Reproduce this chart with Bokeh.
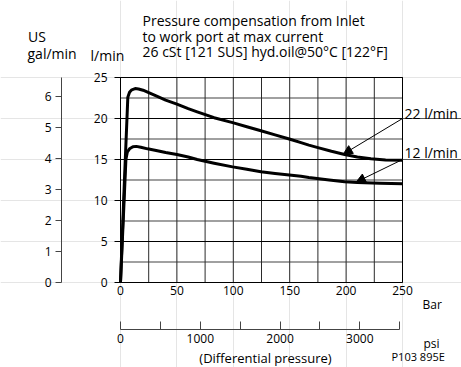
from bokeh.plotting import figure
from bokeh.models import Range1d, LinearAxis, FixedTicker, Label, Arrow, NormalHead
from bokeh.embed import file_html
from bokeh.resources import INLINE

# ---------------- data ----------------
bar_22 = [0, 3.3, 6.5, 8, 10, 13, 16, 20, 25, 31.6, 40, 50, 60, 68, 83, 99.4, 112, 124.5, 137, 149.6, 160, 167, 175, 187, 198.7, 210, 222, 235, 250]
flow_22 = [0, 11.8, 22.6, 23.2, 23.5, 23.65, 23.6, 23.45, 23.15, 22.75, 22.25, 21.75, 21.2, 20.8, 20.1, 19.5, 19.0, 18.5, 18.0, 17.5, 17.05, 16.75, 16.45, 16.0, 15.6, 15.3, 15.1, 14.95, 14.9]
bar_12 = [0, 2.5, 4.8, 6, 8, 11, 14, 18, 24, 31.6, 40, 50, 60, 68, 83, 99.4, 112, 124.5, 137, 149.6, 160, 167, 185, 198.7, 210, 230, 250]
flow_12 = [0, 7.8, 15.0, 15.9, 16.3, 16.55, 16.6, 16.5, 16.3, 16.1, 15.85, 15.6, 15.3, 15.0, 14.55, 14.1, 13.8, 13.5, 13.3, 13.1, 12.95, 12.8, 12.5, 12.3, 12.2, 12.1, 12.05]

bar_label_ticks = [0, 50, 100, 150, 200, 250]
bar_grid_ticks = [0, 25, 50, 75, 100, 125, 150, 175, 200, 225, 250]
lmin_ticks = [0, 5, 10, 15, 20, 25]
lmin_minor = [2.5, 7.5, 12.5, 17.5, 22.5]
gal_ticks = [0, 1, 2, 3, 4, 5, 6]
psi_ticks = [0, 500, 1000, 1500, 2000, 2500, 3000, 3500]
psi_labels = {0: "0", 500: "", 1000: "1000", 1500: "", 2000: "2000",
              2500: "", 3000: "3000", 3500: ""}

BAR_MAX = 250
FLOW_MAX = 25
L_PER_GAL = 3.785
PSI_PER_BAR_DRAWN = 14.14
PSI_MAX = 3500

curve_labels = ["22 l/min", "12 l/min"]
label_line_flow = [20, 15]
arrow_tip_bar = [197.5, 209.0]
arrow_tip_flow = [15.65, 12.25]

title_lines = ["Pressure compensation from Inlet",
               "to work port at max current",
               "26 cSt [121 SUS] hyd.oil@50°C [122°F]"]

# ---------------- geometry (canvas px -> data units) ----------------
W, H = 461, 367                      # canvas size
FL, FT, FW, FH = 120, 77, 282, 205   # chart box on the canvas


def dx(px):
    return (px - FL) * BAR_MAX / FW


def dy(py):
    return (FT + FH - py) * FLOW_MAX / FH


x0, x1 = dx(0), dx(W)
y0, y1 = dy(H), dy(0)

FONT = "Open Sans"
FS_TICK = "12px"

p = figure(width=W, height=H, min_border=0,
           x_range=Range1d(x0, x1), y_range=Range1d(y0, y1),
           x_axis_location=None, y_axis_location=None,
           output_backend="svg", toolbar_location=None)
p.background_fill_color = "white"
p.border_fill_color = "white"
p.outline_line_color = None

# ---------------- grid (from tick arrays) ----------------
p.segment(x0=[0] * len(lmin_minor), y0=lmin_minor,
          x1=[BAR_MAX] * len(lmin_minor), y1=lmin_minor,
          line_color="#808080", line_width=1.3)
p.segment(x0=bar_grid_ticks, y0=[0] * len(bar_grid_ticks),
          x1=bar_grid_ticks, y1=[FLOW_MAX] * len(bar_grid_ticks),
          line_color="#2a2a2a", line_width=1)
p.segment(x0=[0] * len(lmin_ticks), y0=lmin_ticks,
          x1=[BAR_MAX] * len(lmin_ticks), y1=lmin_ticks,
          line_color="black", line_width=1)


def style_axis(a, tick_out, tick_in, standoff, color="black"):
    a.axis_line_color = color
    a.major_tick_out = tick_out
    a.major_tick_in = tick_in
    a.minor_tick_out = 0
    a.minor_tick_in = 0
    a.major_tick_line_color = color
    a.major_label_standoff = standoff
    a.major_label_text_font = FONT
    a.major_label_text_font_size = FS_TICK
    a.major_label_text_color = "black"


# l/min axis
ya = LinearAxis(fixed_location=0, bounds=(0, FLOW_MAX),
                ticker=FixedTicker(ticks=lmin_ticks))
style_axis(ya, 6, 0, 7)
p.add_layout(ya, "left")

# bar axis
xa = LinearAxis(fixed_location=0, bounds=(0, BAR_MAX),
                ticker=FixedTicker(ticks=bar_label_ticks))
style_axis(xa, 0, 0, 3)
xa.axis_line_color = None
p.add_layout(xa, "below")

# gal axis
p.extra_y_ranges = {"gal": Range1d(y0 / L_PER_GAL, y1 / L_PER_GAL)}
ga = LinearAxis(y_range_name="gal", fixed_location=dx(61),
                bounds=(0, FLOW_MAX / L_PER_GAL),
                ticker=FixedTicker(ticks=gal_ticks))
style_axis(ga, 6, 0, 4, "#444444")
p.add_layout(ga, "left")

# psi axis
p.extra_x_ranges = {"psi": Range1d(x0 * PSI_PER_BAR_DRAWN, x1 * PSI_PER_BAR_DRAWN)}
pa = LinearAxis(x_range_name="psi", fixed_location=dy(328.5),
                bounds=(0, PSI_MAX), ticker=FixedTicker(ticks=psi_ticks))
pa.major_label_overrides = psi_labels
style_axis(pa, 0, 8, 5, "#444444")
p.add_layout(pa, "below")

# chart box top/right edges
p.segment(x0=[0, BAR_MAX], y0=[FLOW_MAX, 0], x1=[BAR_MAX, BAR_MAX], y1=[FLOW_MAX, FLOW_MAX],
          line_color="black", line_width=1)

# ---------------- curves ----------------
p.line(bar_22, flow_22, line_width=3, line_color="black", line_join="round")
p.line(bar_12, flow_12, line_width=3, line_color="black", line_join="round")

# label lines + arrows
p.segment(x0=[BAR_MAX] * 2, y0=label_line_flow, x1=[x1] * 2, y1=label_line_flow,
          line_color="#555555", line_width=1)
for i in range(2):
    p.add_layout(Arrow(end=NormalHead(size=9, fill_color="black", line_color="black"),
                       x_start=BAR_MAX, y_start=label_line_flow[i],
                       x_end=arrow_tip_bar[i], y_end=arrow_tip_flow[i],
                       line_color="black", line_width=1))


def add_text(txt, px, py, size, align="left"):
    p.add_layout(Label(x=dx(px), y=dy(py), text=txt, text_font=FONT,
                       text_font_size=size, text_color="black",
                       text_align=align, text_baseline="alphabetic"))


for t, by in zip(title_lines, [20, 35.5, 50.5]):
    add_text(t, 142, by, "14px")
add_text("US", 27.5, 36, "14px")
add_text("gal/min", 27, 52.5, "14px")
add_text("l/min", 90, 55, "14px")
add_text(curve_labels[0], 404, 113, "14px")
add_text(curve_labels[1], 404, 152, "14px")
add_text("Bar", 422, 304, "12px")
add_text("psi", 423, 343, "12px")
add_text("(Differential pressure)", 265, 357, "13px", align="center")
add_text("P103 895E", 391, 356, "11px")

open("out.html", "w").write(file_html(p, INLINE))
